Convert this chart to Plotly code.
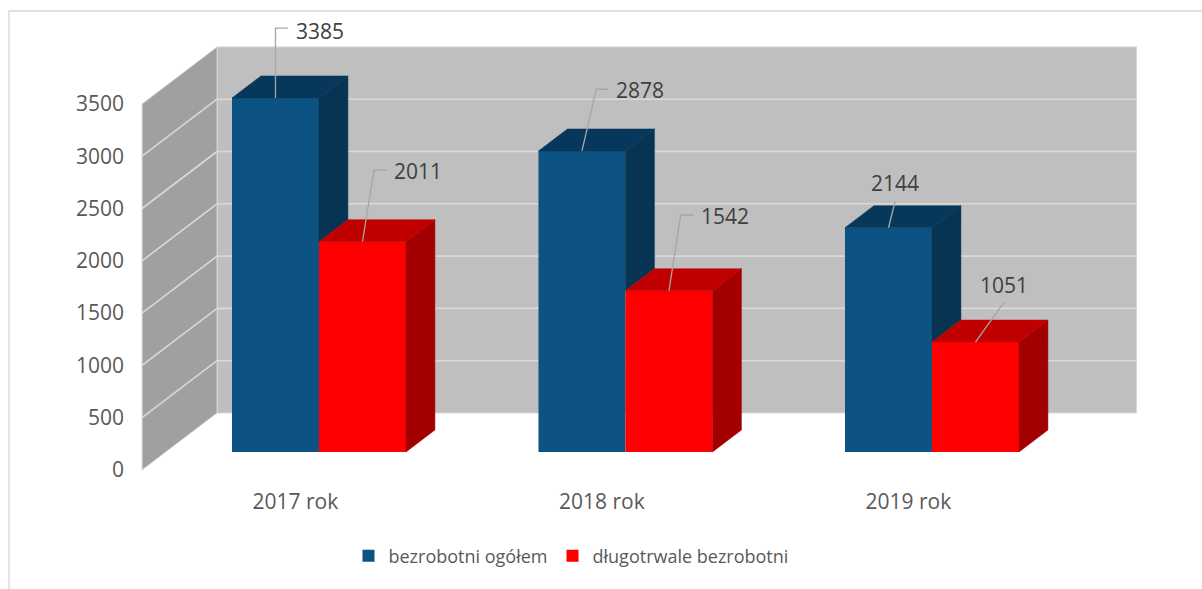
import plotly.graph_objects as go

# ---------------- data ----------------
categories = ["2017 rok", "2018 rok", "2019 rok"]
series_names = ["bezrobotni ogółem", "długotrwale bezrobotni"]
total = [3385, 2878, 2144]
longterm = [2011, 1542, 1051]
y_ticks = [0, 500, 1000, 1500, 2000, 2500, 3000, 3500]

# ---------------- style / geometry ----------------
W, H = 1202, 589
PX_PER_X = 306.5          # pixels per category unit
U_PER_PX = 9.56           # value units per vertical pixel
ORIGIN_PX = (295.3, 470)  # pixel of world point x=0, value=0, depth=0
KX = 75 / PX_PER_X        # x shift for full floor depth
KY = 57 * U_PER_PX        # value shift for full floor depth
ZF, ZB = 18 / 57, 40 / 57 # bar front / back depth
BW = 87 / PX_PER_X        # bar width

FONT = "Open Sans"
NUM_SIZE = 21
BLUE = dict(front="#0C5282", top="#08375C", side="#073452")
RED = dict(front="#FF0000", top="#C00000", side="#A20000")
BACK_WALL = "#BFBFBF"
SIDE_WALL = "#A0A0A0"
GRID = "#D9D9D9"
LEADER = "#A6A6A6"

# label offsets (pixels, y down) relative to top-front-centre of each bar
blue_text_off = [(44.5, -67.3), (58.3, -61.0), (6.3, -45.0)]
red_text_off = [(55.3, -70.6), (55.7, -75.0), (28.4, -57.3)]
blue_leader = [[(0, 0), (0, -69.7), (12.3, -69.7)],
               [(0, 0), (14.3, -61.7), (26, -61.7)],
               [(0, 0), (6.7, -26.6)]]
red_leader = [[(0, 0), (11.6, -71.6), (24, -71.6)],
              [(0, 0), (11.7, -75.7), (24, -75.7)],
              [(0, 0), (28.4, -39.6)]]


def proj(x, v, z):
    return x + z * KX, v + z * KY


def poly(pts, color):
    xs = [p[0] for p in pts] + [pts[0][0]]
    ys = [p[1] for p in pts] + [pts[0][1]]
    return go.Scatter(x=xs, y=ys, mode="lines", fill="toself", fillcolor=color,
                      line=dict(color=color, width=0.5), showlegend=False,
                      hoverinfo="skip")


n = len(categories)
fig = go.Figure()

# front faces as bars
for k, (vals, col) in enumerate([(total, BLUE), (longterm, RED)]):
    xl = [i - BW + k * BW for i in range(n)]
    fig.add_trace(go.Bar(
        x=[proj(x + BW / 2, 0, ZF)[0] for x in xl], y=vals, base=ZF * KY,
        width=BW, marker=dict(color=col["front"], line=dict(width=0)),
        name=series_names[k], hoverinfo="skip"))

# side and top faces
for i in range(n):
    b, r = total[i], longterm[i]
    # blue bar: x from i-BW to i
    xl, xr = i - BW, i
    low = min(r, b)
    fig.add_trace(poly([proj(xr, low, ZF), proj(xr, b, ZF), proj(xr, b, ZB), proj(xr, low, ZB)], BLUE["side"]))
    fig.add_trace(poly([proj(xl, b, ZF), proj(xr, b, ZF), proj(xr, b, ZB), proj(xl, b, ZB)], BLUE["top"]))
    # red bar: x from i to i+BW
    xl, xr = i, i + BW
    fig.add_trace(poly([proj(xr, 0, ZF), proj(xr, r, ZF), proj(xr, r, ZB), proj(xr, 0, ZB)], RED["side"]))
    fig.add_trace(poly([proj(xl, r, ZF), proj(xr, r, ZF), proj(xr, r, ZB), proj(xl, r, ZB)], RED["top"]))

# data labels with leader lines
annotations = []
for k, (vals, toff, lead) in enumerate([(total, blue_text_off, blue_leader),
                                        (longterm, red_text_off, red_leader)]):
    for i in range(n):
        cx = i - BW / 2 + k * BW
        sx, sy = proj(cx, vals[i], ZF)
        lx = [sx + dx / PX_PER_X for dx, dy in lead[i]]
        ly = [sy - dy * U_PER_PX for dx, dy in lead[i]]
        fig.add_trace(go.Scatter(x=lx, y=ly, mode="lines",
                                 line=dict(color=LEADER, width=1.3),
                                 showlegend=False, hoverinfo="skip"))
        annotations.append(dict(x=sx, y=sy, xref="x", yref="y",
                                xshift=toff[i][0], yshift=-toff[i][1],
                                text=str(vals[i]), showarrow=False,
                                xanchor="center", yanchor="middle",
                                font=dict(family=FONT, size=NUM_SIZE, color="#404040")))

# walls and gridlines
x_left, x_right = -0.5, n - 0.5
ymax = y_ticks[-1]
shapes = []
shapes.append(dict(type="rect", xref="x", yref="y", layer="below",
                   x0=x_left + KX, x1=x_right + KX, y0=KY, y1=ymax + KY,
                   fillcolor=BACK_WALL, line=dict(color=GRID, width=1)))
shapes.append(dict(type="path", xref="x", yref="y", layer="below",
                   path=f"M{x_left},0 L{x_left + KX},{KY} L{x_left + KX},{ymax + KY} L{x_left},{ymax} Z",
                   fillcolor=SIDE_WALL, line=dict(color=GRID, width=1)))
for v in y_ticks[1:-1]:
    shapes.append(dict(type="line", xref="x", yref="y", layer="below",
                       x0=x_left + KX, x1=x_right + KX, y0=v + KY, y1=v + KY,
                       line=dict(color=GRID, width=1.6)))
    shapes.append(dict(type="line", xref="x", yref="y", layer="below",
                       x0=x_left, x1=x_left + KX, y0=v, y1=v + KY,
                       line=dict(color=GRID, width=1.6)))
# chart border
shapes.append(dict(type="rect", xref="paper", yref="paper",
                   x0=9 / W, x1=1.05, y0=-0.05, y1=1 - 11 / H,
                   line=dict(color="#D9D9D9", width=1.3)))

fig.update_layout(
    width=W, height=H, margin=dict(l=0, r=0, t=0, b=0),
    paper_bgcolor="white", plot_bgcolor="white",
    barmode="overlay", hovermode=False,
    font=dict(family=FONT, color="#595959"),
    shapes=shapes, annotations=annotations,
    xaxis=dict(range=[-ORIGIN_PX[0] / PX_PER_X, (W - ORIGIN_PX[0]) / PX_PER_X],
               tickvals=list(range(n)), ticktext=categories,
               showgrid=False, zeroline=False, showline=False, ticks="",
               tickfont=dict(family=FONT, size=NUM_SIZE, color="#595959"),
               anchor="free", position=(H - 487) / H, fixedrange=True),
    yaxis=dict(range=[(ORIGIN_PX[1] - H) * U_PER_PX, ORIGIN_PX[1] * U_PER_PX],
               tickvals=y_ticks, ticktext=[str(t) for t in y_ticks],
               showgrid=False, zeroline=False, showline=False, ticks="",
               tickfont=dict(family=FONT, size=NUM_SIZE, color="#595959"),
               anchor="free", position=124 / W, fixedrange=True),
    legend=dict(orientation="h", x=571 / W, xanchor="center",
                y=(H - 556) / H, yanchor="middle",
                font=dict(family=FONT, size=18, color="#595959"),
                bgcolor="rgba(0,0,0,0)"),
)

fig.write_html("out.html", config={"displayModeBar": False},
               post_script="document.body.style.margin='0';document.body.style.overflow='hidden';")
